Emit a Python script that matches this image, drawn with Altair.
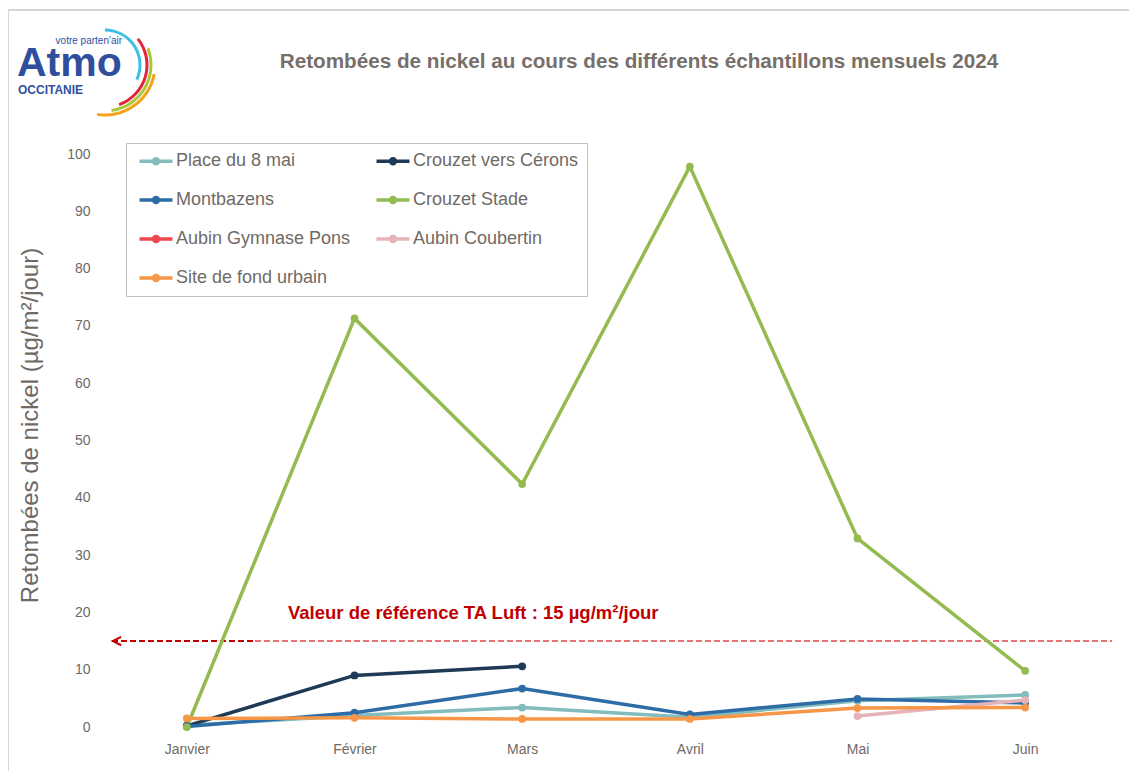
import altair as alt
import pandas as pd

months = ["Janvier", "Février", "Mars", "Avril", "Mai", "Juin"]
series = ["Place du 8 mai", "Crouzet vers Cérons", "Montbazens", "Crouzet Stade",
          "Aubin Gymnase Pons", "Aubin Coubertin", "Site de fond urbain"]
colors = ["#82bcbc", "#1e3a56", "#2e6ca8", "#93bb50", "#f0474c", "#e6b3b7", "#f79646"]
# legend is filled column by column: this order shows the reference's row order
legend_order = [0, 2, 4, 6, 1, 3, 5]

place_8_mai = [0.3, 2.0, 3.4, 1.7, 4.6, 5.6]
crouzet_cerons = [0.2, 9.0, 10.6, None, None, None]
montbazens = [0.1, 2.5, 6.7, 2.2, 4.9, 4.2]
crouzet_stade = [0.0, 71.3, 42.4, 97.8, 32.9, 9.8]
aubin_gymnase = [None, None, None, None, None, None]
aubin_coubertin = [None, None, None, None, 1.9, 4.7]
site_fond = [1.5, 1.6, 1.4, 1.4, 3.3, 3.4]

ref_value = 15
y_ticks = list(range(0, 101, 10))

values = [place_8_mai, crouzet_cerons, montbazens, crouzet_stade,
          aubin_gymnase, aubin_coubertin, site_fond]
rows = []
for name, vals in zip(series, values):
    for m, v in zip(months, vals):
        if v is not None:
            rows.append({"serie": name, "mois": m, "valeur": v})
df = pd.DataFrame(rows)

FONT = "Liberation Sans"
GREY = "#6f6a66"
one = pd.DataFrame({"a": [0]})

legend_path = ("M-2,0L2,0M-0.3,0A0.3,0.3,0,1,0,0.3,0A0.3,0.3,0,1,0,-0.3,0"
               "M-0.1,0A0.1,0.1,0,1,0,0.1,0A0.1,0.1,0,1,0,-0.1,0")

border = alt.Chart(one).mark_rect(filled=False, stroke="#d6d6d6", strokeWidth=2).encode(
    x=alt.value(-95), x2=alt.value(1060), y=alt.value(-144), y2=alt.value(720)
)

title = alt.Chart(one).mark_text(
    text="Retombées de nickel au cours des différents échantillons mensuels 2024",
    font=FONT, fontSize=20.7, fontWeight="bold", color="#776f69", align="center",
    baseline="middle"
).encode(x=alt.value(536), y=alt.value(-92))

lines = alt.Chart(df).mark_line(
    strokeWidth=3.5, point=alt.OverlayMarkDef(size=60, filled=True, opacity=1)
).encode(
    x=alt.X("mois:N", sort=months, scale=alt.Scale(type="point", padding=0.5),
            axis=alt.Axis(title=None, labelAngle=0, labelFontSize=14, labelColor=GREY,
                          labelFont=FONT, ticks=False, domain=False, labelPadding=15, grid=False)),
    y=alt.Y("valeur:Q", scale=alt.Scale(domain=[0, 100], nice=False),
            axis=alt.Axis(values=y_ticks, title="Retombées  de nickel (µg/m²/jour)",
                          titleFontSize=24, titleFontWeight="normal", titleColor=GREY,
                          titleFont=FONT, titlePadding=24, titleY=271, labelFontSize=14,
                          labelColor=GREY, labelFont=FONT, labelPadding=13, ticks=False,
                          domain=False, gridColor="#d9d9d9", gridWidth=1)),
    color=alt.Color("serie:N",
                    scale=alt.Scale(domain=[series[i] for i in legend_order],
                                    range=[colors[i] for i in legend_order]),
                    legend=alt.Legend(title=None, orient="none", legendX=23, legendY=-11,
                                      columns=2, symbolType=legend_path, symbolSize=272,
                                      symbolStrokeWidth=3.5, labelFontSize=18, labelColor=GREY,
                                      labelFont=FONT, fillColor="white", strokeColor="#bfbfbf",
                                      padding=8, rowPadding=19, columnPadding=18, labelOffset=10,
                                      labelLimit=300, symbolOffset=12)),
)

ref_dark = alt.Chart(one).mark_rule(color="#c00000", strokeWidth=2, strokeDash=[6, 3]).encode(
    x=alt.value(9), x2=alt.value(152), y=alt.datum(ref_value)
)
ref_light = alt.Chart(one).mark_rule(color="#e57373", strokeWidth=2, strokeDash=[6, 3]).encode(
    x=alt.value(152), x2=alt.value(1009), y=alt.datum(ref_value)
)
arrow = alt.Chart(one).mark_point(shape="M1,-1L-1,0L1,1", size=70, stroke="#c00000",
                                  strokeWidth=2, filled=False, opacity=1).encode(
    x=alt.value(14), y=alt.datum(ref_value)
)
ref_text = alt.Chart(one).mark_text(
    text="Valeur de référence TA Luft : 15 µg/m²/jour", font=FONT, fontSize=18.5,
    fontWeight="bold", color="#c00000", align="left", baseline="middle"
).encode(x=alt.value(185), y=alt.value(459))

logo_blue = "#2f4f9e"
logo_atmo = alt.Chart(one).mark_text(text="Atmo", font=FONT, fontSize=41, fontWeight="bold",
                                     color=logo_blue, align="left", baseline="alphabetic"
                                     ).encode(x=alt.value(-86), y=alt.value(-78))
logo_votre = alt.Chart(one).mark_text(text="votre parten'air", font=FONT, fontSize=10,
                                      color=logo_blue, align="right", baseline="alphabetic"
                                      ).encode(x=alt.value(19), y=alt.value(-110))
logo_occ = alt.Chart(one).mark_text(text="OCCITANIE", font=FONT, fontSize=12, fontWeight="bold",
                                    color=logo_blue, align="left", baseline="alphabetic"
                                    ).encode(x=alt.value(-85), y=alt.value(-60))
arcs = []
for col, r, t1, t2 in [("#3cc0e8", 35, 0.0, 2.0), ("#e5243b", 42, 0.9, 2.8),
                       ("#a6c83a", 46, 1.2, 3.0), ("#f7a11a", 50, 1.75, 3.3)]:
    arcs.append(alt.Chart(one).mark_arc(color=col).encode(
        x=alt.value(2), y=alt.value(-89), theta=alt.value(t1), theta2=alt.value(t2),
        radius=alt.value(r + 1.5), radius2=alt.value(r - 1.5)))

chart = alt.layer(
    border, title, ref_dark, ref_light, arrow, lines, ref_text,
    logo_atmo, logo_votre, logo_occ, *arcs
).properties(
    width=1006, height=573,
    padding={"left": 95, "top": 146, "right": 20, "bottom": 44},
    autosize=alt.AutoSizeParams(type="none"),
    background="white",
).configure_view(stroke=None)

chart.save("out.html", embed_options={"renderer": "svg", "actions": False})
